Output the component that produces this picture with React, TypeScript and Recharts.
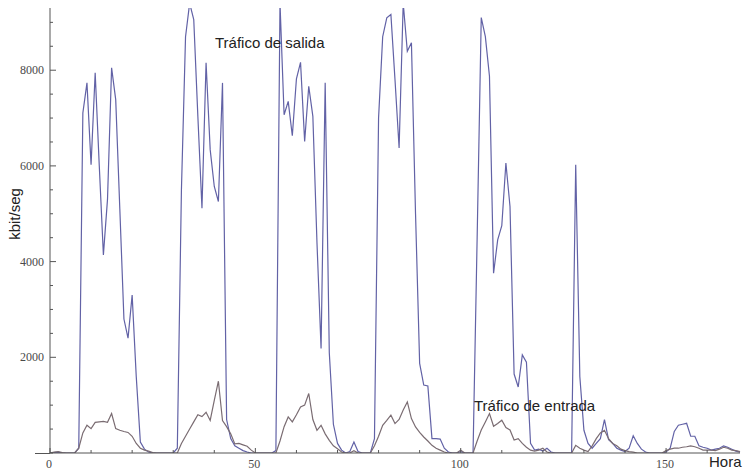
import React from "react";
import { LineChart, Line, XAxis, YAxis } from "recharts";

// Hourly traffic (kbit/seg), hours 0..168
const salida: number[] = [
  0, 10, 20, 0, 0, 0, 0, 100, 7107, 7735,
  6025, 7945, 6000, 4140, 5300, 8050, 7385, 5100, 2800, 2400,
  3300, 1600, 230, 80, 20, 0, 0, 0, 0, 0,
  0, 100, 5500, 8700, 9400, 9060, 7036, 5117, 8154, 6340,
  5570, 5256, 7735, 700, 300, 150, 100, 50, 20, 0,
  0, 0, 0, 0, 0, 50, 9400, 7070, 7350, 6630,
  7820, 8165, 6512, 7664, 7036, 4400, 2186, 7735, 2100, 600,
  200, 60, 0, 30, 230, 30, 0, 0, 0, 300,
  7000, 8700, 9096, 9165, 7800, 6374, 9400, 8397, 8573, 5000,
  1872, 1420, 1400, 300, 300, 290, 100, 20, 0, 0,
  30, 0, 0, 0, 4500, 9100, 8700, 7874, 3757, 4454,
  4750, 6060, 5151, 1650, 1380, 2050, 1900, 200, 60, 80,
  40, 100, 20, 0, 0, 0, 0, 0, 6025, 1600,
  475, 200, 100, 200, 300, 700, 280, 200, 100, 60,
  30, 100, 360, 200, 80, 20, 0, 0, 0, 0,
  20, 100, 450, 580, 600, 620, 350, 350, 150, 120,
  100, 60, 80, 100, 150, 120, 80, 40, 20,
];

const entrada: number[] = [
  0, 20, 30, 10, 0, 0, 0, 100, 420, 580,
  510, 640, 650, 660, 640, 825, 510, 475, 450, 430,
  350, 200, 100, 60, 40, 10, 0, 0, 0, 0,
  0, 0, 200, 350, 500, 650, 800, 760, 850, 680,
  1100, 1500, 680, 550, 400, 190, 200, 170, 140, 60,
  0, 0, 0, 0, 0, 0, 250, 550, 754, 650,
  800, 960, 1000, 1244, 700, 475, 580, 400, 265, 150,
  90, 20, 0, 0, 50, 0, 0, 0, 0, 150,
  350, 580, 680, 790, 615, 700, 900, 1068, 720, 545,
  430, 335, 250, 160, 100, 60, 20, 0, 0, 0,
  60, 0, 0, 0, 250, 480, 650, 825, 560, 615,
  685, 530, 480, 270, 300, 200, 120, 60, 40, 60,
  100, 20, 0, 0, 0, 0, 0, 0, 160, 100,
  60, 30, 150, 300, 420, 475, 300, 200, 150, 80,
  50, 30, 20, 0, 0, 0, 0, 0, 0, 0,
  50, 80, 100, 100, 120, 130, 150, 130, 100, 60,
  60, 60, 50, 80, 120, 100, 60, 50, 30,
];

const xTicks = [0, 10, 20, 30, 40, 50, 60, 70, 80, 90, 100, 110, 120, 130, 140, 150, 160];
const xLabelTicks = [0, 50, 100, 150];
const yTicks = [0, 500, 1000, 1500, 2000, 2500, 3000, 3500, 4000, 4500, 5000, 5500, 6000, 6500, 7000, 7500, 8000, 8500, 9000];
const yLabelTicks = [2000, 4000, 6000, 8000];

const data = salida.map((v, i) => ({ h: i, salida: v, entrada: entrada[i] }));

const AXIS = "#555";
const TICK_FONT = "'Liberation Serif', serif";

const YTick = (props: any) => {
  const { x, y, payload } = props;
  const ax = x + 5;
  const major = yLabelTicks.includes(payload.value);
  return (
    <g>
      <line x1={ax} x2={ax + (major ? 6 : 3)} y1={y} y2={y} stroke={AXIS} strokeWidth={1} />
      {major ? (
        <text x={x - 1} y={y} dy={4} textAnchor="end" fontSize={12} fontFamily={TICK_FONT} fill="#4a4a4a">
          {payload.value}
        </text>
      ) : null}
    </g>
  );
};

const XTick = (props: any) => {
  const { x, y, payload } = props;
  const ay = y - 5;
  const major = xLabelTicks.includes(payload.value);
  return (
    <g>
      <line x1={x} x2={x} y1={ay} y2={ay - (major ? 5 : 3)} stroke={AXIS} strokeWidth={1} />
      {major ? (
        <text x={x - 1} y={ay + 15} textAnchor="middle" fontSize={12} fontFamily={TICK_FONT} fill="#4a4a4a">
          {payload.value}
        </text>
      ) : null}
    </g>
  );
};

export default function App() {
  return (
    <div style={{ position: "absolute", left: 0, top: 0, width: 746, height: 473, background: "#fff" }}>
      <LineChart width={746} height={473} data={data} margin={{ top: 8, right: 6, left: 0, bottom: 0 }}>
        <XAxis
          dataKey="h"
          type="number"
          domain={[0, 168]}
          ticks={xTicks}
          interval={0}
          height={20}
          tickSize={0}
          tickMargin={5}
          tick={<XTick />}
          axisLine={{ stroke: AXIS, strokeWidth: 1 }}
          tickLine={false}
        />
        <YAxis
          type="number"
          domain={[0, 9300]}
          allowDataOverflow
          ticks={yTicks}
          interval={0}
          width={50}
          tickSize={0}
          tickMargin={5}
          tick={<YTick />}
          axisLine={{ stroke: AXIS, strokeWidth: 1 }}
          tickLine={false}
        />
        <Line
          type="linear"
          dataKey="salida"
          stroke="#6262a6"
          strokeWidth={1.2}
          dot={false}
          isAnimationActive={false}
        />
        <Line
          type="linear"
          dataKey="entrada"
          stroke="#7a6c72"
          strokeWidth={1.2}
          dot={false}
          isAnimationActive={false}
        />
      </LineChart>
      <svg
        width={746}
        height={473}
        style={{ position: "absolute", left: 0, top: 0, pointerEvents: "none" }}
        fontFamily="'Liberation Sans', Arial, sans-serif"
      >
        <line x1={35} x2={50} y1={453.5} y2={453.5} stroke={AXIS} strokeWidth={1} />
        <text x={215} y={48} fontSize={15} fill="#222">Tráfico de salida</text>
        <text x={474} y={411} fontSize={15} fill="#222">Tráfico de entrada</text>
        <text x={709} y={467} fontSize={15} fill="#222">Hora</text>
        <text x={20} y={214} fontSize={15} fill="#222" textAnchor="middle" transform="rotate(-90 20 214)">kbit/seg</text>
      </svg>
    </div>
  );
}
